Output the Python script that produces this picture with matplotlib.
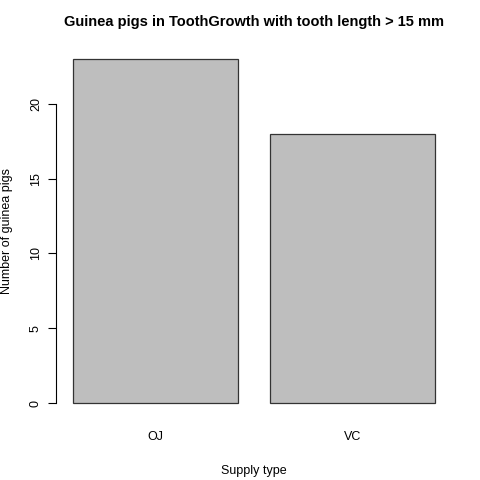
import matplotlib
matplotlib.use('Agg')
import matplotlib.pyplot as plt

supply = ['OJ', 'VC']
counts = [23, 18]
yticks = [0, 5, 10, 15, 20]

plt.rcParams['font.family'] = ['Liberation Sans', 'DejaVu Sans']
fig = plt.figure(figsize=(4.8, 4.8), dpi=100)
ax = fig.add_axes([58.5 / 480, 1 - 417 / 480, 391 / 480, 372 / 480])

lefts = [0.2 + 1.2 * i for i in range(len(supply))]
ax.bar(lefts, counts, width=1.0, align='edge', color='#bebebe', edgecolor='#333333', linewidth=0.9)
ax.set_xlim(0.112, 2.488)
ax.set_ylim(-0.92, 23.92)

for s in ['top', 'right', 'bottom']:
    ax.spines[s].set_visible(False)
ax.spines['left'].set_bounds(0, 20)
ax.spines['left'].set_position(('outward', 2))
ax.set_yticks(yticks)
ax.set_yticklabels([str(v) for v in yticks], rotation=90, va='center', fontsize=9)
ax.tick_params(axis='y', length=6, pad=4)
ax.set_xticks([l + 0.5 for l in lefts])
ax.set_xticklabels(supply, fontsize=9)
ax.tick_params(axis='x', length=0, pad=10)

ax.set_xlabel('Supply type', fontsize=9, labelpad=16)
ax.set_ylabel('Number of guinea pigs', fontsize=9, labelpad=12)
ax.set_title('Guinea pigs in ToothGrowth with tooth length > 15 mm', fontsize=10.5, fontweight='bold', pad=14)

fig.savefig('out.png', dpi=100)
